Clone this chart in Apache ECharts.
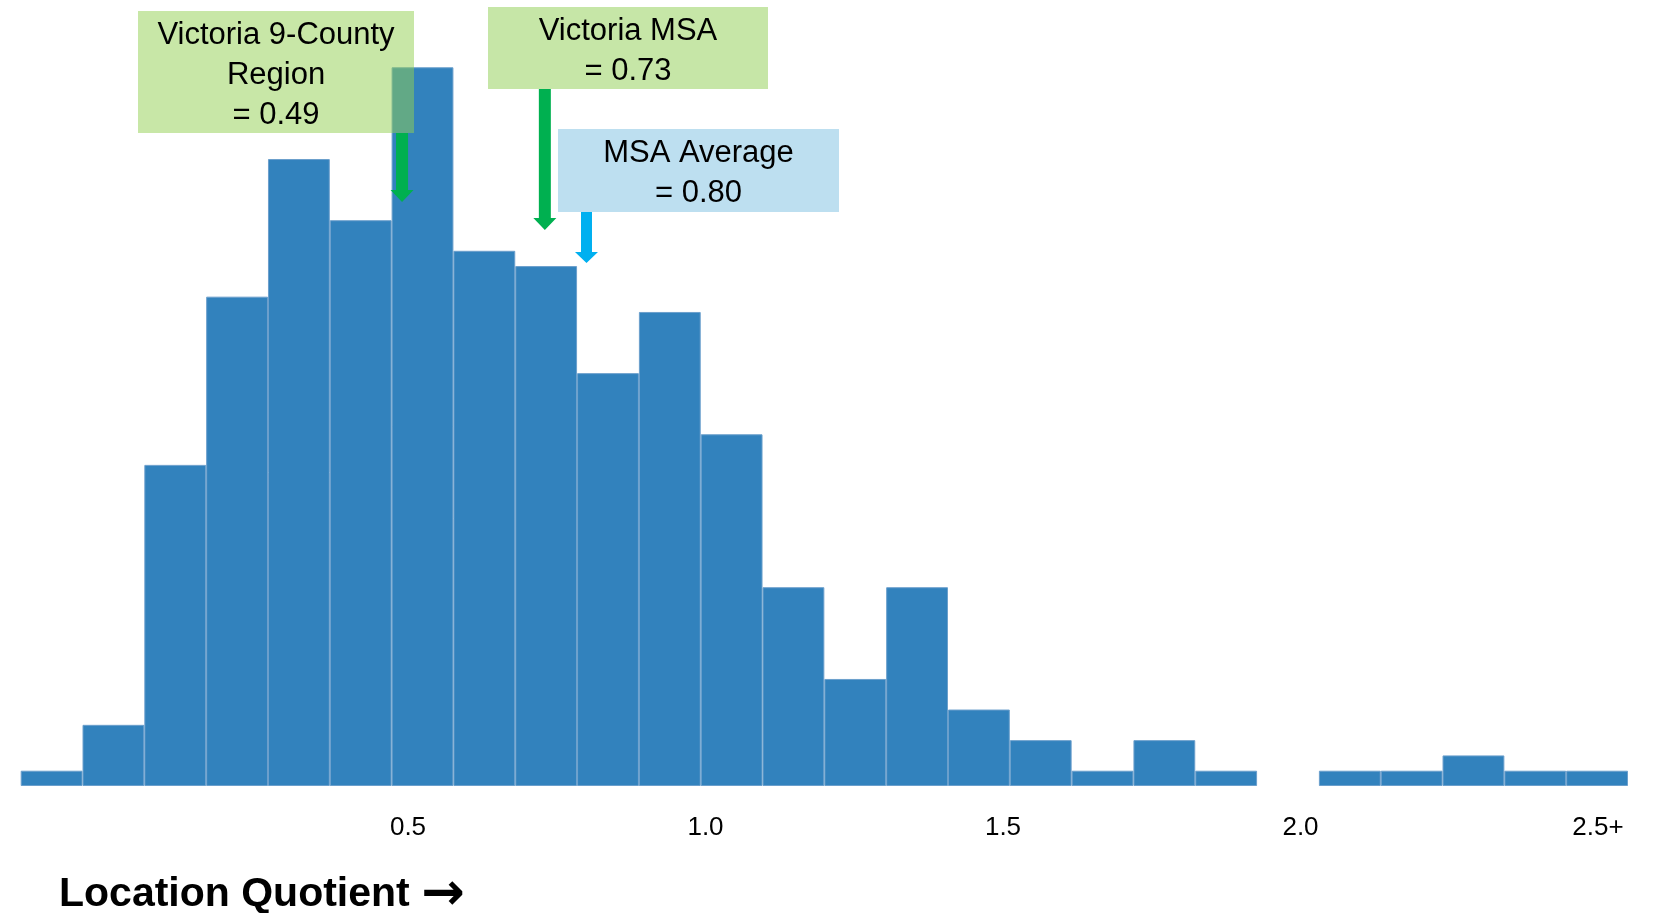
<!DOCTYPE html>
<html>
<head>
<meta charset="utf-8">
<title>Location Quotient Distribution</title>
<script src="https://cdn.jsdelivr.net/npm/echarts@6/dist/echarts.min.js"></script>
<style>
  html, body { margin: 0; padding: 0; background: #ffffff; }
  #chart { width: 1662px; height: 913px; }
</style>
</head>
<body>
<div id="chart"></div>
<script>
// Histogram bins (26 equal-width bins of location quotient, last bin = 2.5+)
const binLabels = ['b01','b02','b03','b04','b05','b06','b07','b08','b09','b10','b11','b12','b13',
                   'b14','b15','b16','b17','b18','b19','b20','b21','b22','b23','b24','b25','b26'];
const binCounts = [1, 4, 21, 32, 41, 37, 47, 35, 34, 27, 31, 23, 13,
                   7, 13, 5, 3, 1, 3, 1, 0, 1, 1, 2, 1, 1];

// Location quotient scale tick labels
const tickValues = [0.5, 1.0, 1.5, 2.0, 2.5];
const tickTexts = ['0.5', '1.0', '1.5', '2.0', '2.5+'];

// Reference markers
const markerNames = ['Victoria 9-County\nRegion', 'Victoria MSA', 'MSA Average'];
const markerValues = [0.49, 0.73, 0.80];

const FONT = '"Liberation Sans", Arial, sans-serif';

// Callout box and arrow styling for each marker (pixel layout)
const calloutStyle = [
  { box: [138, 11, 276, 122], fill: '#92d050', opacity: 0.5, arrow: '#00b050', tipY: 202, shaft: 12, head: 23, headH: 12 },
  { box: [488, 7, 280, 82],   fill: '#c6e6a7', opacity: 1,   arrow: '#00b050', tipY: 230, shaft: 12, head: 23, headH: 12 },
  { box: [558, 129, 281, 83], fill: '#bddff0', opacity: 1,   arrow: '#00b0f0', tipY: 263, shaft: 11, head: 23, headH: 11 }
];

const chart = echarts.init(document.getElementById('chart'), null, { renderer: 'canvas' });

function renderCallout(params, api) {
  const i = params.dataIndex;
  const s = calloutStyle[i];
  const x = api.coord([api.value(0), 0])[0];
  const [bx, by, bw, bh] = s.box;
  const top = by + bh;
  const tip = s.tipY;
  const hs = s.shaft / 2, hh = s.head / 2;
  const arrowPts = [
    [x - hs, top], [x + hs, top], [x + hs, tip - s.headH], [x + hh, tip - s.headH],
    [x, tip], [x - hh, tip - s.headH], [x - hs, tip - s.headH]
  ];
  return {
    type: 'group',
    children: [
      { type: 'polygon', shape: { points: arrowPts }, style: { fill: s.arrow } },
      { type: 'rect', shape: { x: bx, y: by, width: bw, height: bh },
        style: { fill: s.fill, opacity: s.opacity } },
      { type: 'text',
        style: {
          text: markerNames[i] + '\n= ' + markerValues[i].toFixed(2),
          x: bx + bw / 2, y: by + bh / 2 + 3,
          align: 'center', verticalAlign: 'middle',
          fontSize: 31, fontFamily: FONT, lineHeight: 40, fill: '#000000'
        } }
    ]
  };
}

const option = {
  animation: false,
  backgroundColor: '#ffffff',
  title: {
    text: '{t|Location Quotient }{a|\u2192}',
    left: 54, top: 864,
    textStyle: {
      rich: {
        t: { fontSize: 41, fontWeight: 'bold', fontFamily: FONT, color: '#000000' },
        a: { fontSize: 52, fontWeight: 'bold', fontFamily: 'DejaVu Sans', color: '#000000' }
      }
    }
  },
  grid: { left: 20.7, right: 34, top: 52, bottom: 127, containLabel: false },
  xAxis: [
    {
      type: 'category', data: binLabels,
      axisLine: { show: false }, axisTick: { show: false }, axisLabel: { show: false },
      splitLine: { show: false }
    },
    {
      type: 'value', position: 'bottom',
      min: -0.1509, max: 2.5504,
      axisLine: { show: false }, axisTick: { show: false }, splitLine: { show: false },
      axisLabel: {
        customValues: tickValues,
        formatter: v => tickTexts[tickValues.findIndex(t => Math.abs(t - v) < 1e-6)] || '',
        margin: 29, fontSize: 26, fontFamily: FONT, color: '#000000'
      }
    }
  ],
  yAxis: {
    type: 'value', min: 0, max: 48,
    show: false, splitLine: { show: false }
  },
  series: [
    {
      type: 'bar', xAxisIndex: 0, yAxisIndex: 0,
      // empty bins get no outline so nothing is drawn for them
      data: binCounts.map(v => v > 0 ? v : { value: v, itemStyle: { borderWidth: 0, opacity: 0 } }),
      barCategoryGap: '0%',
      itemStyle: { color: '#3282bd', borderColor: '#6b9fcc', borderWidth: 1 },
      z: 2
    },
    {
      type: 'custom', xAxisIndex: 1, yAxisIndex: 0,
      data: markerValues.map(v => [v]),
      encode: { x: 0 },
      clip: false,
      renderItem: renderCallout,
      z: 5
    }
  ]
};

chart.setOption(option);
</script>
</body>
</html>
